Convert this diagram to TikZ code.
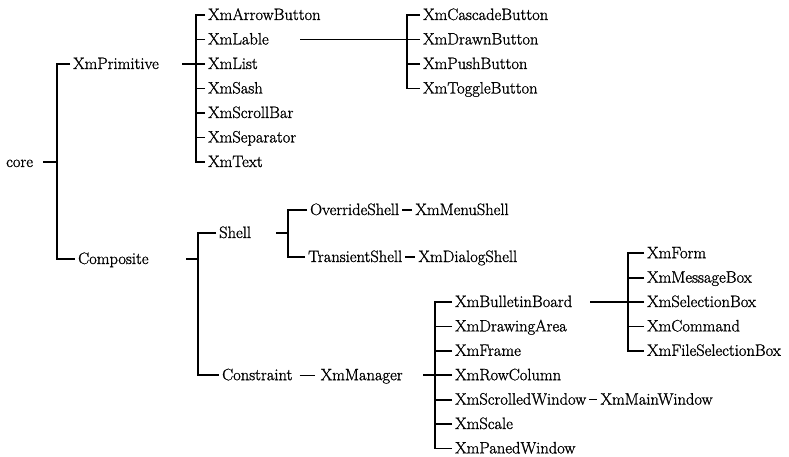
\documentclass[tikz,border=0pt]{standalone}
\usepackage{fontspec}
\setmainfont{Latin Modern Roman}[FakeBold=1.2]
\begin{document}
\begin{tikzpicture}[x=1pt,y=-1pt,
  lbl/.style={anchor=west, inner xsep=3pt, inner ysep=0pt, text height=12pt, text depth=2pt,
    font=\fontsize{16.5}{19}\selectfont},
  link/.style={line width=1.8pt, line cap=butt},
  dashlink/.style={line width=1.4pt}]
\useasboundingbox (0,0) rectangle (789,457);

% ---- nodes ----
\node[lbl] (core) at (3,162) {core};
\node[lbl] (prim) at (70,64) {XmPrimitive};
\node[lbl] (comp) at (75,259) {Composite};

\node[lbl] (arrow)  at (205,15)    {XmArrowButton};
\node[lbl] (lable)  at (205,39.5)  {XmLable};
\node[lbl] (list)   at (205,64)    {XmList};
\node[lbl] (sash)   at (205,88.5)  {XmSash};
\node[lbl] (scroll) at (205,113)   {XmScrollBar};
\node[lbl] (sep)    at (205,137.5) {XmSeparator};
\node[lbl] (text)   at (205,162)   {XmText};

\node[lbl] (casc)   at (420,15)    {XmCascadeButton};
\node[lbl] (drawn)  at (420,39.5)  {XmDrawnButton};
\node[lbl] (push)   at (420,64)    {XmPushButton};
\node[lbl] (toggle) at (420,88.5)  {XmToggleButton};

\node[lbl] (shell)  at (216,233) {Shell};
\node[lbl] (over)   at (307,210) {OverrideShell};
\node[lbl] (menu)   at ([xshift=10pt]over.east) {XmMenuShell};
\node[lbl] (trans)  at (305,257) {TransientShell};
\node[lbl] (dialog) at ([xshift=10pt]trans.east) {XmDialogShell};

\node[lbl] (cons)   at (219,375.2) {Constraint};
\node[lbl] (mgr)    at ([xshift=22pt]cons.east) {XmManager};

\node[lbl] (bb)  at (452,302)   {XmBulletinBoard};
\node[lbl] (da)  at (452,326.4) {XmDrawingArea};
\node[lbl] (fr)  at (452,350.8) {XmFrame};
\node[lbl] (rc)  at (452,375.2) {XmRowColumn};
\node[lbl] (sw)  at (452,399.6) {XmScrolledWindow};
\node[lbl] (mw)  at ([xshift=8pt]sw.east) {XmMainWindow};
\node[lbl] (sc)  at (452,424)   {XmScale};
\node[lbl] (pw)  at (452,448.4) {XmPanedWindow};

\node[lbl] (form) at (644,253.2) {XmForm};
\node[lbl] (msg)  at (644,277.6) {XmMessageBox};
\node[lbl] (sel)  at (644,302)   {XmSelectionBox};
\node[lbl] (cmd)  at (644,326.4) {XmCommand};
\node[lbl] (fsb)  at (644,350.8) {XmFileSelectionBox};

% ---- bracket coordinates ----
\coordinate (coret) at (43,162);   \coordinate (coreb) at (57,162);
\coordinate (primt) at (182,64);   \coordinate (primb) at (196,64);
\coordinate (lablet) at (300,39.5); \coordinate (lableb) at (407,39.5);
\coordinate (compt) at (186,259);  \coordinate (compb) at (198,259);
\coordinate (shellt) at (276,233); \coordinate (shellb) at (288,233);
\coordinate (mgrt) at (423,375.2); \coordinate (mgrb) at (435,375.2);
\coordinate (bbt) at (590,302);    \coordinate (bbb) at (628,302);

% ---- connectors ----
% core
\draw[link] (coret) -- (coreb);
\draw[link] (prim.west) -| (coreb) |- (comp.west);
% XmPrimitive
\draw[link] (primt) -- (primb);
\draw[link] (arrow.west) -| (primb) |- (text.west);
\foreach \n in {lable,list,sash,scroll,sep} \draw[link] (\n.west) -- (\n.west -| primb);
% XmLable
\draw[link] (lablet) -- (lableb);
\draw[link] (casc.west) -| (lableb) |- (toggle.west);
\foreach \n in {drawn,push} \draw[link] (\n.west) -- (\n.west -| lableb);
% Composite
\draw[link] (compt) -- (compb);
\draw[link] (shell.west) -| (compb) |- (cons.west);
% Shell
\draw[link] (shellt) -- (shellb);
\draw[link] (over.west) -| (shellb) |- (trans.west);
\draw[dashlink] (over.east) -- (menu.west);
\draw[dashlink] (trans.east) -- (dialog.west);
% Constraint
\draw[dashlink, shorten <=4pt, shorten >=3pt] (cons.east) -- (mgr.west);
% XmManager
\draw[link] (mgrt) -- (mgrb);
\draw[link] (bb.west) -| (mgrb) |- (pw.west);
\foreach \n in {da,fr,rc,sw,sc} \draw[link] (\n.west) -- (\n.west -| mgrb);
\draw[dashlink] (sw.east) -- (mw.west);
% XmBulletinBoard
\draw[link] (bbt) -- (bbb);
\draw[link] (form.west) -| (bbb) |- (fsb.west);
\foreach \n in {msg,sel,cmd} \draw[link] (\n.west) -- (\n.west -| bbb);
\end{tikzpicture}
\end{document}
